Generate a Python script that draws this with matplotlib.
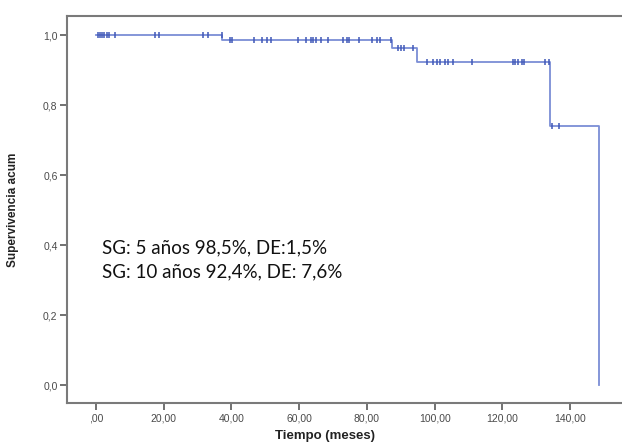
import numpy as np
import matplotlib
matplotlib.use("Agg")
import matplotlib.pyplot as plt

# Kaplan-Meier step data (months, cumulative survival)
step_times = [0.0, 37.3, 87.5, 94.9, 134.0, 148.5]
step_surv = [1.0, 0.985, 0.962, 0.924, 0.739, 0.0]

# censored observations (months)
censor_times = [0.8, 1.3, 1.8, 2.4, 3.2, 4.0, 5.7, 17.5, 18.8, 31.6, 33.2, 37.2,
                39.6, 40.1, 46.8, 49.0, 50.4, 51.6, 59.8, 62.0, 63.4, 64.2, 65.0,
                66.5, 68.6, 73.0, 74.0, 74.8, 77.8, 81.4, 82.9, 83.9, 87.1,
                89.3, 90.1, 90.9, 93.7, 97.8, 99.6, 100.8, 101.6, 103.0, 104.0,
                105.3, 110.9, 123.0, 123.7, 124.7, 125.7, 126.4, 132.5, 133.8,
                134.5, 136.8]

xticks = [0, 20, 40, 60, 80, 100, 120, 140]
xtick_labels = [",00", "20,00", "40,00", "60,00", "80,00", "100,00", "120,00", "140,00"]
yticks = [0.0, 0.2, 0.4, 0.6, 0.8, 1.0]
ytick_labels = ["0,0", "0,2", "0,4", "0,6", "0,8", "1,0"]
notes = ["SG: 5 años 98,5%, DE:1,5%", "SG: 10 años 92,4%, DE: 7,6%"]

fig = plt.figure(figsize=(6.22, 4.43), dpi=100)
ax = fig.add_axes([0.1082, 0.0896, 1 - 0.1082, 0.965 - 0.0896])

line_col = "#7b8ed6"
mark_col = "#4058b8"

ax.step(step_times, step_surv, where="post", color=line_col, lw=1.3)

def surv_at(t):
    idx = np.searchsorted(step_times, t, side="right") - 1
    return step_surv[idx]

cy = [surv_at(t) for t in censor_times]
ax.plot(censor_times, cy, linestyle="none", marker="|", markersize=5,
        markeredgewidth=1.1, color=mark_col)

ax.set_xlim(-8.4, 155.3)
ax.set_ylim(-0.0514, 1.0557)
ax.set_xticks(xticks)
ax.set_xticklabels(xtick_labels)
ax.set_yticks(yticks)
ax.set_yticklabels(ytick_labels)

ax.spines["right"].set_visible(False)
for s in ["left", "bottom", "top"]:
    ax.spines[s].set_color("#7a7a7a")
    ax.spines[s].set_linewidth(1.5)

ax.tick_params(axis="both", direction="out", length=5, width=1.3, color="#666666",
               labelsize=7.5, labelcolor="#4a4a4a", pad=2)
for lab in ax.get_xticklabels() + ax.get_yticklabels():
    lab.set_family(["Liberation Sans", "DejaVu Sans"])

ax.set_xlabel("Tiempo (meses)", fontsize=9.5, fontweight="bold", color="#222222",
              family=["Liberation Sans", "DejaVu Sans"])
ax.xaxis.set_label_coords((325 - 67.3) / (622 - 67.3), -0.07)
ax.set_ylabel("Supervivencia acum", fontsize=8.5, fontweight="bold", color="#222222",
              family=["Liberation Sans Narrow", "Liberation Sans", "DejaVu Sans"])
ax.yaxis.set_label_coords(-0.087, 0.5)

for i, note in enumerate(notes):
    fig.text(102 / 622, 1 - (248 + 24 * i) / 443, note, fontsize=13.5, color="#111111",
             family=["Lato", "DejaVu Sans"], va="center", ha="left")

fig.savefig("out.png", dpi=100)
